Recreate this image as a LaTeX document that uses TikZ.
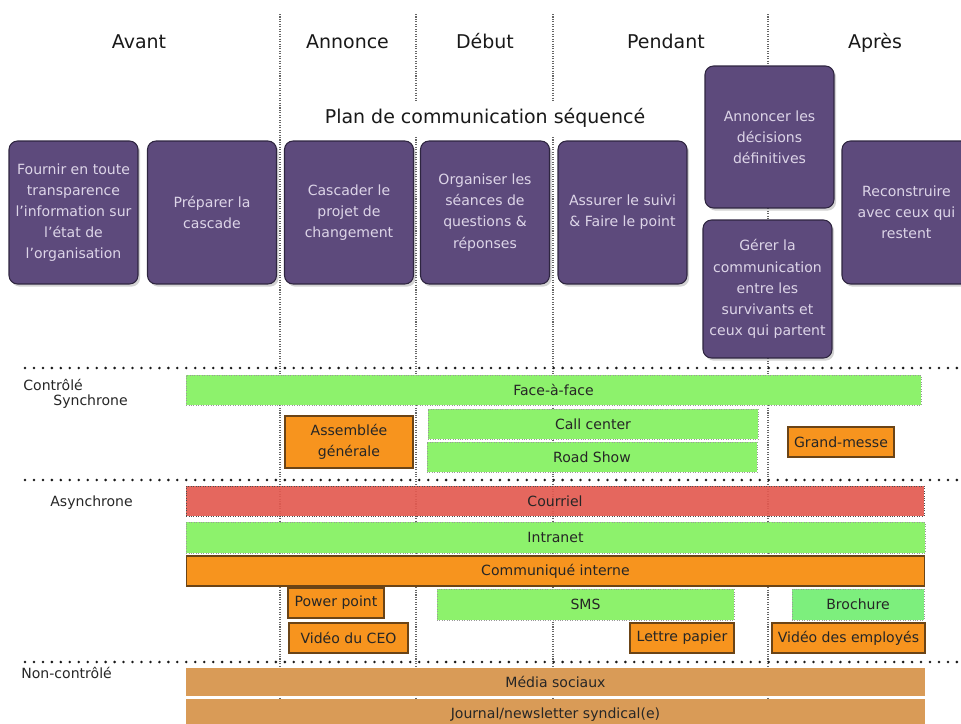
\documentclass[tikz,border=0pt]{standalone}
\usepackage{fontspec}
\setmainfont{DejaVu Sans}
\usetikzlibrary{positioning, shadows}

\definecolor{etapefond}{HTML}{5D4A7C}
\definecolor{etapebord}{HTML}{2E2540}
\definecolor{etapetexte}{HTML}{DDD5E8}
\definecolor{canalvert}{HTML}{8DF26C}
\definecolor{canalbrochure}{HTML}{7DEF7D}
\definecolor{canalorange}{HTML}{F7941E}
\definecolor{canalrouge}{HTML}{E35A50}
\definecolor{canalbrun}{HTML}{D99B57}
\definecolor{bordorange}{HTML}{6B4416}

\newcommand{\titrefont}{\fontsize{10.8pt}{13pt}\selectfont}
\newcommand{\petitfont}{\fontsize{8pt}{12pt}\selectfont}

\tikzset{
	etape/.style={draw=etapebord, line width=0.6pt, fill=etapefond, rounded corners=0.17cm,
		text=etapetexte, font=\petitfont, align=center, inner sep=0pt, outer sep=0pt,
		minimum width=2.58cm, minimum height=2.86cm,
		drop shadow={shadow xshift=1.2pt, shadow yshift=-1.5pt, opacity=0.35}},
	canal/.style={font=\petitfont, text=black!85, align=center, inner sep=0pt, outer sep=0pt,
		minimum height=0.6cm},
	vert/.style={canal, fill=canalvert, draw=gray!80, densely dotted, line width=0.4pt},
	orange/.style={canal, fill=canalorange, draw=bordorange, line width=0.6pt},
	rouge/.style={canal, fill=canalrouge, fill opacity=0.92, text opacity=1, draw=black!70, densely dotted, line width=0.4pt},
	brun/.style={canal, fill=canalbrun},
	phase/.style={draw=black!60, line width=0.6pt, dash pattern=on 0.6pt off 0.8pt},
	separateur/.style={draw=black!90, line width=1.6pt, dash pattern=on 0pt off 5.1pt, line cap=round},
	entete/.style={font=\titrefont, text=black!90},
	rang/.style={font=\petitfont, text=black!85, anchor=west, inner sep=0pt}
}

\begin{document}
\begin{tikzpicture}[x=0.02cm, y=-0.02cm]
	\useasboundingbox (0, 0) rectangle (961, 724);

	% Lines:
	\draw[phase] (280, 14) -- (280, 724);
	\draw[phase] (416, 14) -- (416, 724);
	\draw[phase] (553, 14) -- (553, 724);
	\draw[phase] (768, 14) -- (768, 724);

	\draw[separateur] (25, 368) -- (961, 368);
	\draw[separateur] (25, 480) -- (961, 480);
	\draw[separateur] (25, 662) -- (961, 662);

	% Labels
	\node[entete, anchor=base] (avant) at (139, 48) {Avant};
	\node[entete, anchor=base] (annonce) at (347.5, 48) {Annonce};
	\node[entete, anchor=base] (debut) at (485, 48) {Début};
	\node[entete, anchor=base] (pendant) at (666, 48) {Pendant};
	\node[entete, anchor=base] (apres) at (875, 48) {Après};
	\node[entete, fill=white, minimum height=0.7cm, inner xsep=2pt] (plan) at (485, 118) {Plan de communication séquencé};

	% Instances/Symbols:
	\node[etape] (fournir) at (73.5, 212.5) {Fournir en toute\\transparence\\l'information sur\\l'état de\\l'organisation};
	\node[etape] (preparer) at (212, 212.5) {Préparer la\\cascade};
	\node[etape] (cascader) at (349, 212.5) {Cascader le\\projet de\\changement};
	\node[etape] (organiser) at (485, 212.5) {Organiser les\\séances de\\questions \&\\réponses};
	\node[etape] (assurer) at (622.5, 212.5) {Assurer le suivi\\\& Faire le point};
	\node[etape, minimum height=2.84cm] (annoncer) at (769.5, 137) {Annoncer les\\décisions\\définitives};
	\node[etape, minimum height=2.76cm] (gerer) at (767.5, 289) {Gérer la\\communication\\entre les\\survivants et\\ceux qui partent};
	\node[etape] (reconstruire) at (906.5, 212.5) {Reconstruire\\avec ceux qui\\restent};

	\node[rang] (controle) at (23, 385) {Contrôlé};
	\node[rang] (synchrone) at (53, 402) {Synchrone};
	\node[rang] (asynchrone) at (50, 503) {Asynchrone};
	\node[rang] (noncontrole) at (21, 673) {Non-contrôlé};

	% Synchrone
	\node[vert, minimum width=14.7cm] (face) at (553.5, 390) {Face-à-face};
	\node[vert, minimum width=6.6cm] (callcenter) at (593, 424) {Call center};
	\node[vert, minimum width=6.6cm] (roadshow) at (592, 457) {Road Show};
	\node[orange, minimum width=2.56cm, minimum height=1.04cm] (assemblee) at (349, 442) {Assemblée\\générale};
	\node[orange, minimum width=2.12cm] (grandmesse) at (841, 442) {Grand-messe};

	% Asynchrone
	\node[rouge, minimum width=14.76cm] (courriel) at (555, 501) {Courriel};
	\node[vert, minimum width=14.78cm, minimum height=0.62cm] (intranet) at (555.5, 537.5) {Intranet};
	\node[orange, minimum width=14.78cm] (communique) at (555.5, 571) {Communiqué interne};
	\node[orange, minimum width=1.92cm] (powerpoint) at (336, 603) {Power point};
	\node[vert, minimum width=5.94cm, minimum height=0.62cm] (sms) at (585.5, 604.5) {SMS};
	\node[vert, fill=canalbrochure, minimum width=2.64cm, minimum height=0.62cm] (brochure) at (858, 604.5) {Brochure};
	\node[orange, minimum width=2.38cm] (videoceo) at (348.5, 638) {Vidéo du CEO};
	\node[orange, minimum width=2.08cm] (lettre) at (682, 638) {Lettre papier};
	\node[orange, minimum width=3.06cm] (videoemployes) at (848.5, 638) {Vidéo des employés};

	% Non-controle
	\node[brun, minimum width=14.78cm, minimum height=0.56cm] (media) at (555.5, 682) {Média sociaux};
	\node[brun, minimum width=14.78cm, minimum height=0.64cm] (journal) at (555.5, 715) {Journal/newsletter syndical(e)};

\end{tikzpicture}
\end{document}
